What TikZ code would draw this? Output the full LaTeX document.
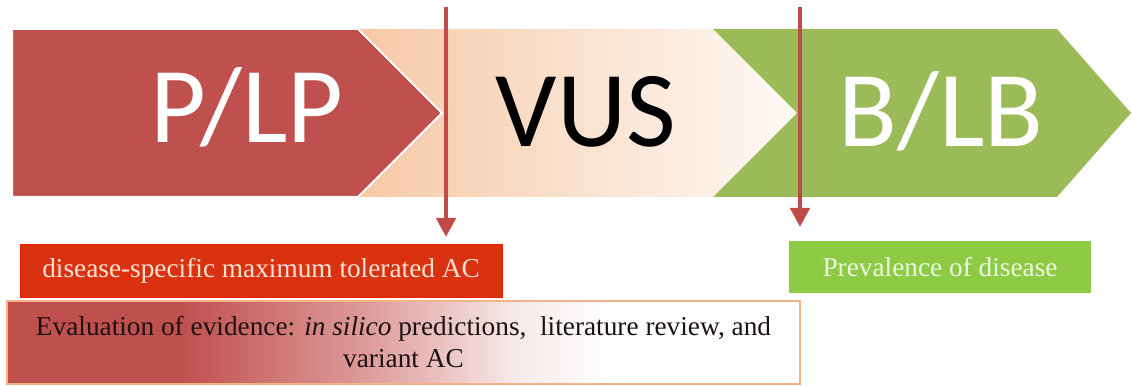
\documentclass[tikz,border=0pt]{standalone}
\usepackage{fontspec}
\setmainfont{Liberation Serif}
\newfontfamily\chevfont{Carlito}
\usetikzlibrary{arrows.meta}

\definecolor{plp}{HTML}{C0504D}
\definecolor{blb}{HTML}{9BBB59}
\definecolor{vusL}{HTML}{F6C9A7}
\definecolor{vusR}{HTML}{FEF9F5}
\definecolor{lineRed}{HTML}{BF4A47}
\definecolor{acRed}{HTML}{DA3110}
\definecolor{acEdge}{HTML}{F01C00}
\definecolor{acText}{HTML}{FBE3D3}
\definecolor{prevGreen}{HTML}{8DCB45}
\definecolor{prevText}{HTML}{ECF6DE}
\definecolor{evalEdge}{HTML}{F5B488}
\definecolor{evalMid}{HTML}{DE9E9C}
\definecolor{evalLight}{HTML}{F7E9E9}
\definecolor{evalText}{HTML}{1C1212}

% red-to-white fade for the evidence box (path spans 25bp..75bp)
\pgfdeclarehorizontalshading{evalfade}{100bp}{color(0bp)=(plp); color(36bp)=(plp);
  color(48bp)=(evalMid); color(57bp)=(evalLight); color(63bp)=(white); color(100bp)=(white)}

\tikzset{
  chevlabel/.style={font=\chevfont\fontsize{108}{108}\selectfont, anchor=base, inner sep=0pt},
  vline/.style={draw=lineRed, line width=4.5pt, -{Triangle[length=19pt,width=19pt]}},
  infobox/.style={inner sep=0pt, font=\fontsize{27.3}{32}\selectfont},
}

\begin{document}
\begin{tikzpicture}[x=1pt,y=-1pt]
  \useasboundingbox (0,0) rectangle (1132,387);

  % VUS band
  \shade[left color=vusL, right color=vusR]
    (358,29) -- (713,29) -- (795,113) -- (713,197) -- (358,197) -- (442,113) -- cycle;
  % B/LB band
  \fill[blb]
    (713,29) -- (1057,29) -- (1131,113) -- (1057,197) -- (713,197) -- (797,113) -- cycle;
  % P/LP band with a thin white rim
  \filldraw[fill=plp, draw=white, line width=2pt, line join=miter]
    (12,29) -- (358,29) -- (442,113) -- (358,197) -- (12,197) -- cycle;

  \node[chevlabel, text=white] (plpLabel) at (247,143) {P/LP};
  \node[chevlabel, text=black] (vusLabel) at (586,147) {VUS};
  \node[chevlabel, text=white] (blbLabel) at (941,147) {B/LB};

  % lower boxes
  \node[infobox, draw=acEdge, line width=1pt, fill=acRed, text=acText,
        minimum width=482pt, minimum height=52pt] (maxAC) at (261,271)
        {disease-specific maximum tolerated AC};
  \node[infobox, fill=prevGreen, text=prevText,
        minimum width=302pt, minimum height=52pt] (prev) at (940,267)
        {Prevalence of disease};
  \node[infobox, shading=evalfade, draw=evalEdge, line width=2pt, text=evalText,
        minimum width=793pt, minimum height=83pt, align=center] (evid) at (403.5,342.5)
        {Evaluation of evidence: \textit{in silico} predictions,\ \ literature review, and\\variant AC};

  % thresholds
  \coordinate (cutA) at (446,7);
  \coordinate (cutAend) at (446,237);
  \coordinate (cutB) at (800,7);
  \coordinate (cutBend) at (800,227);
  \draw[vline] (cutA) -- (cutAend);
  \draw[vline] (cutB) -- (cutBend);
\end{tikzpicture}
\end{document}
